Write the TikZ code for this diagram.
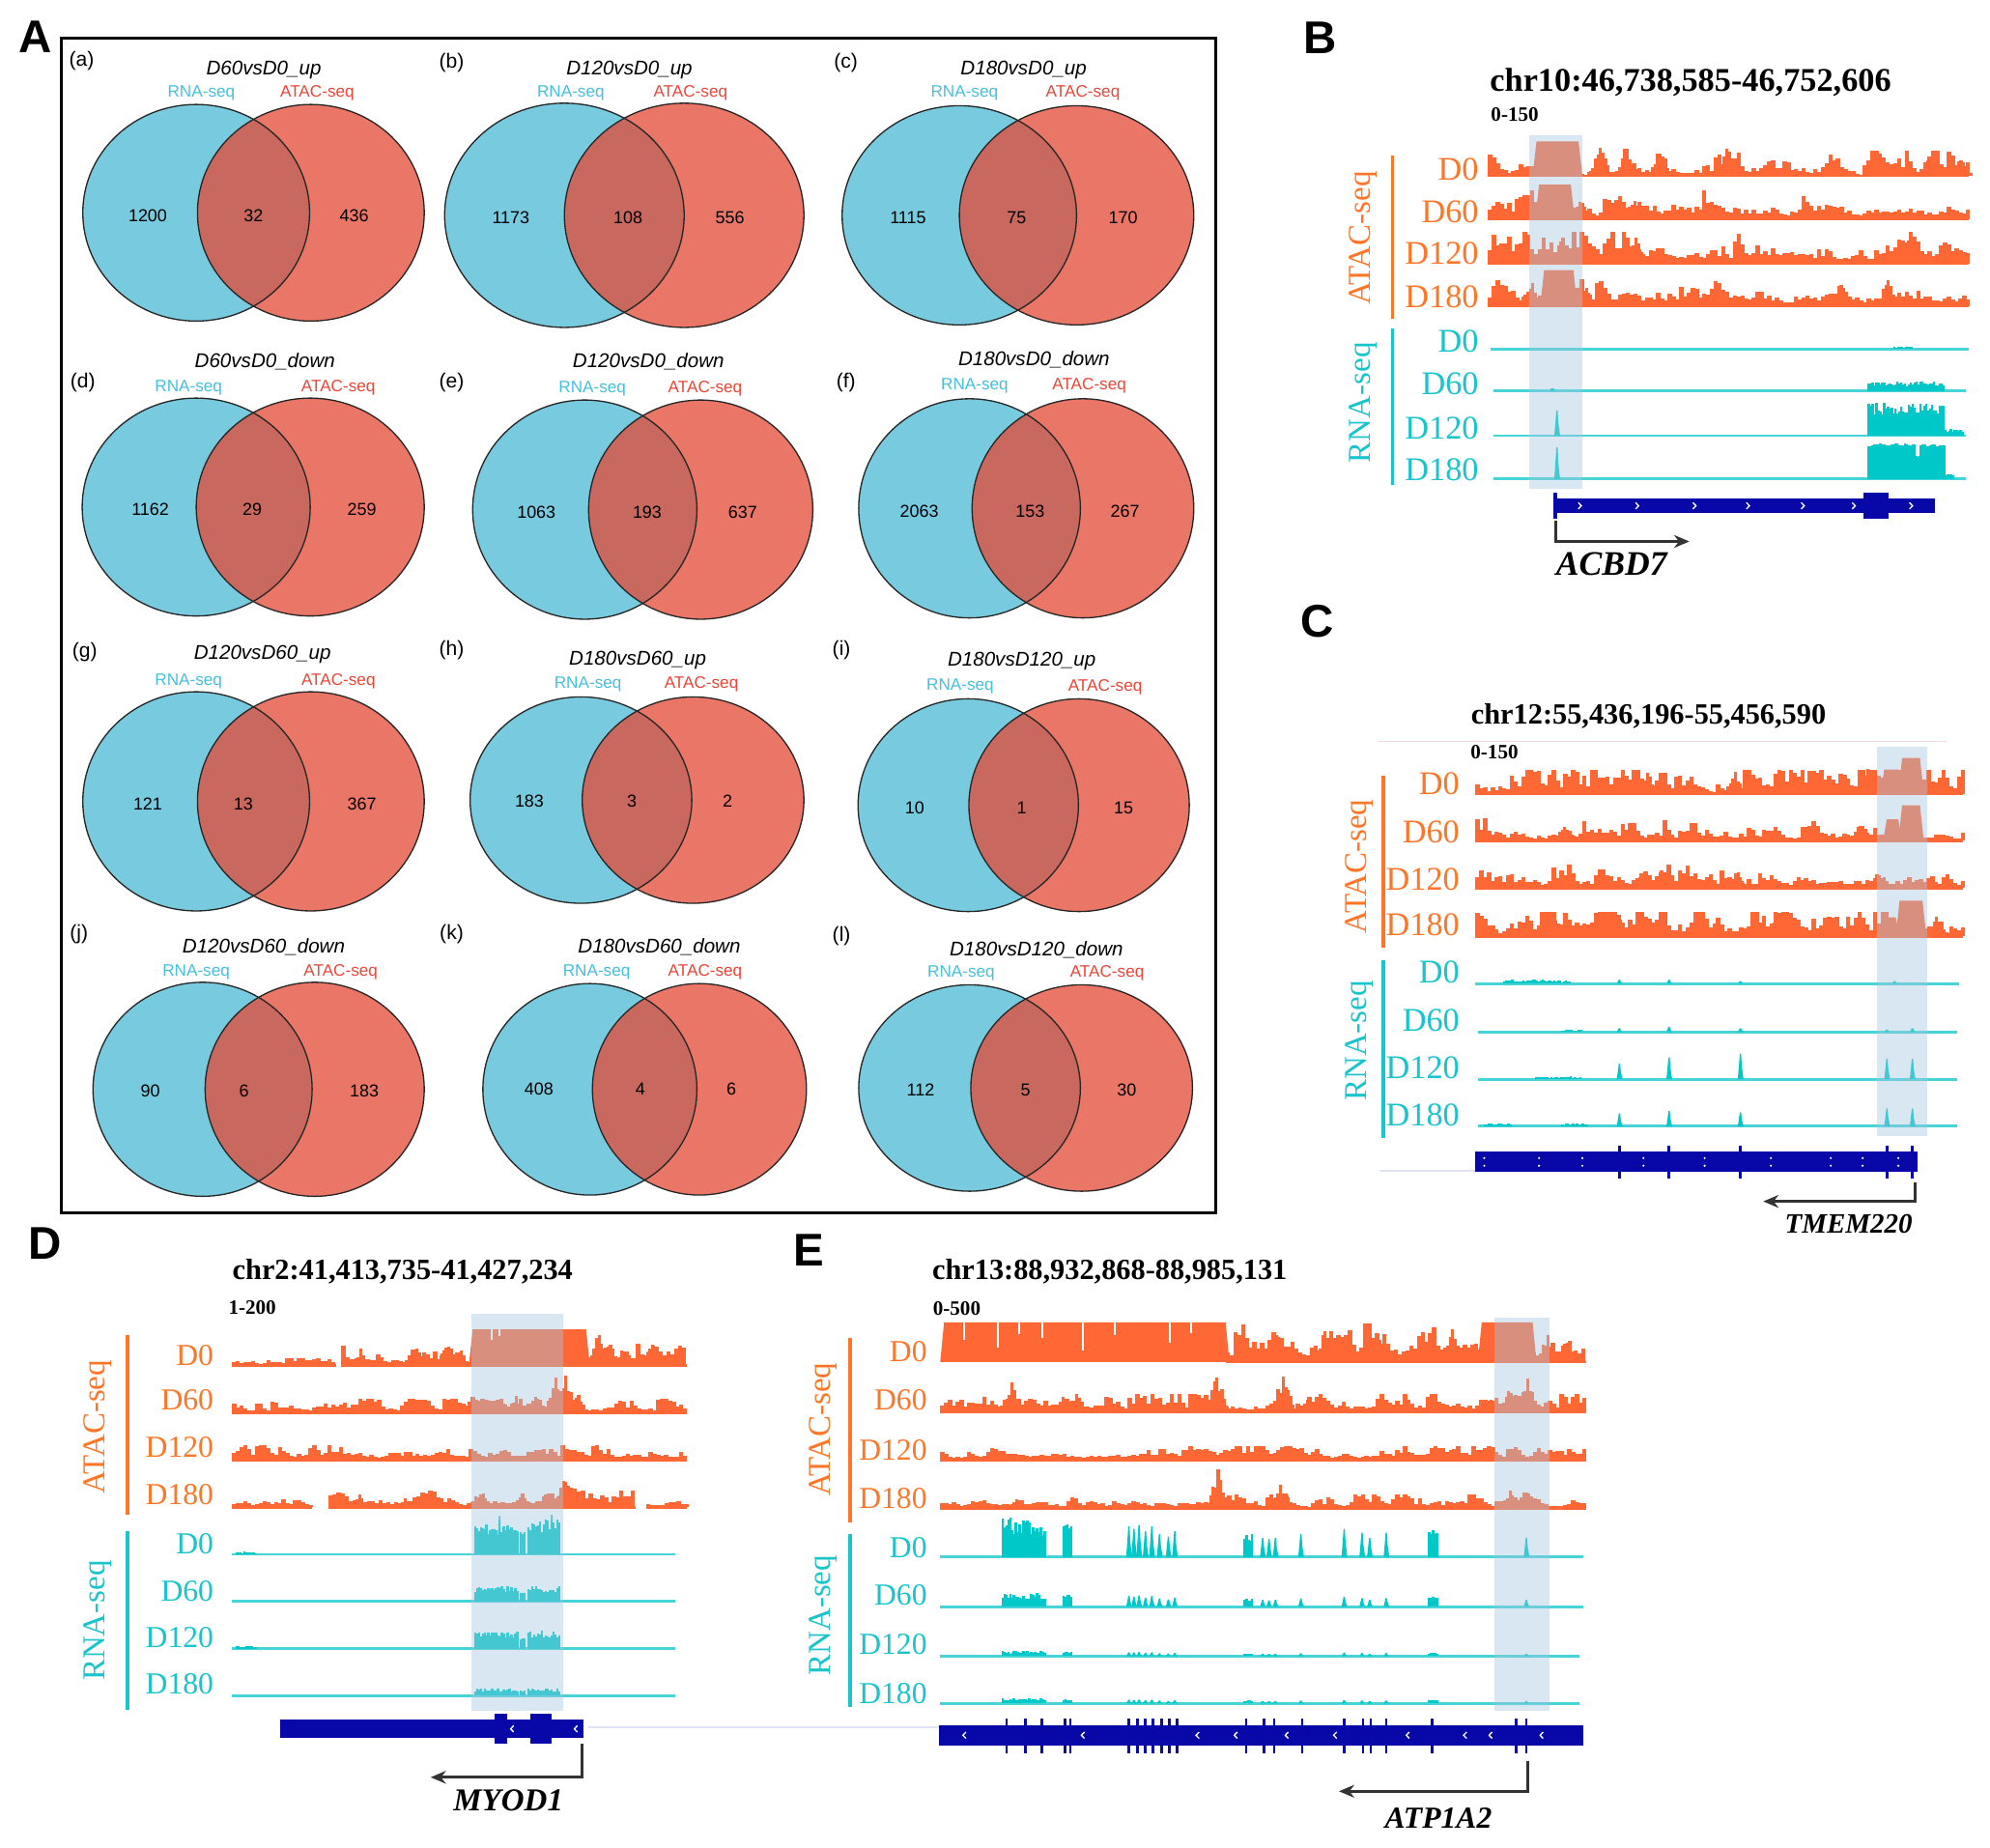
\documentclass[tikz,border=0pt]{standalone}
\usepackage{fontspec}
\setmainfont{Liberation Serif}
\setsansfont{Liberation Sans}
\usetikzlibrary{arrows.meta}
\definecolor{vblue}{RGB}{120,202,223}
\definecolor{vred}{RGB}{234,118,104}
\definecolor{vint}{RGB}{201,104,94}
\definecolor{rnatxt}{RGB}{70,192,222}
\definecolor{atactxt}{RGB}{235,70,55}
\definecolor{atacc}{RGB}{255,104,52}
\definecolor{ataclab}{RGB}{255,118,40}
\definecolor{rnac}{RGB}{0,200,200}
\definecolor{rnaline}{RGB}{70,212,214}
\definecolor{rnalab}{RGB}{25,196,205}
\definecolor{genec}{RGB}{8,8,168}
\definecolor{hil}{RGB}{165,198,226}
\definecolor{lav}{RGB}{226,226,245}
\definecolor{pinkl}{RGB}{250,215,215}
\tikzset{
 pletter/.style={font=\sffamily\bfseries\fontsize{18}{18}\selectfont, inner sep=0pt},
 vsub/.style={font=\sffamily\fontsize{8}{8}\selectfont, inner sep=0pt},
 vtitle/.style={font=\sffamily\itshape\fontsize{7.8}{8}\selectfont, inner sep=0pt},
 vrna/.style={font=\sffamily\fontsize{6.5}{7}\selectfont, text=rnatxt, inner sep=0pt},
 vatac/.style={font=\sffamily\fontsize{6.5}{7}\selectfont, text=atactxt, inner sep=0pt},
 vnum/.style={font=\sffamily\fontsize{6.8}{7}\selectfont, inner sep=0pt},
 btitle/.style={font=\bfseries\fontsize{13}{13}\selectfont, inner sep=0pt},
 ctitle/.style={font=\bfseries\fontsize{11.5}{12}\selectfont, inner sep=0pt},
 cscale/.style={font=\bfseries\fontsize{8}{8}\selectfont, inner sep=0pt},
 alab/.style={font=\fontsize{13}{13}\selectfont, text=ataclab, anchor=east, inner sep=0pt},
 rlab/.style={font=\fontsize{13}{13}\selectfont, text=rnalab, anchor=east, inner sep=0pt},
 alabs/.style={alab, font=\fontsize{12}{12}\selectfont},
 rlabs/.style={rlab, font=\fontsize{12}{12}\selectfont},
 aname/.style={font=\fontsize{12.5}{13}\selectfont, text=ataclab, rotate=90, inner sep=0pt},
 rname/.style={font=\fontsize{12.5}{13}\selectfont, text=rnalab, rotate=90, inner sep=0pt},
 abar/.style={draw=ataclab, line width=1.5pt},
 rbar/.style={draw=rnalab, line width=1.5pt},
 gname/.style={font=\bfseries\itshape\fontsize{12.5}{13}\selectfont, inner sep=0pt},
 garrow/.style={draw=black!80, line width=1.1pt, -{Stealth[length=6pt,width=5pt]}},
 hilite/.style={fill=hil, fill opacity=0.42},
 vline/.style={draw=black!85, line width=0.5pt},
}
\newcommand{\venn}[5]{%
  \fill[vblue] (#1,#3) ellipse [x radius=#4, y radius=#5];
  \fill[vred] (#2,#3) ellipse [x radius=#4, y radius=#5];
  \begin{scope}
    \clip (#1,#3) ellipse [x radius=#4, y radius=#5];
    \fill[vint] (#2,#3) ellipse [x radius=#4, y radius=#5];
  \end{scope}
  \draw[vline] (#1,#3) ellipse [x radius=#4, y radius=#5];
  \draw[vline] (#2,#3) ellipse [x radius=#4, y radius=#5];
}
% random ATAC-like signal: x0, x1, baseline, amplitude, seed, floor
\newcommand{\sig}[6]{%
  \pgfmathsetseed{#5}%
  \gdef\envv{0.55}\gdef\vprev{0.4}%
  \pgfmathtruncatemacro\nsteps{(#2-#1)/3}%
  \foreach \k in {0,...,\nsteps}{%
    \pgfmathsetmacro\ee{max(0.2,min(1,\envv+0.4*(rnd-0.5)))}%
    \global\let\envv\ee
    \pgfmathsetmacro\vv{0.4*\vprev+0.6*2.0*\ee*(rnd^1.5)}%
    \global\let\vprev\vv
    \pgfmathsetmacro\hh{#4*min(1,#6+(1-#6)*\vv)}%
    \fill[atacc] ({#1+3*\k},#3) rectangle ++(3.4,-\hh);
  }%
  \draw[atacc,line width=1pt] (#1,#3) -- (#2+2,#3);%
}
\newcommand{\blk}[4]{\fill[atacc] (#1,#4) -- (#1+3,#4-#3) -- (#2-3,#4-#3) -- (#2,#4) -- cycle;}
% jagged peak: centre, height, baseline
\newcommand{\pk}[3]{%
  \foreach \j in {-4,...,4}{%
    \pgfmathsetmacro\hh{#2*max(0,1-abs(\j)/5)*(0.6+0.4*rnd)}%
    \fill[atacc] ({#1+2*\j-1},#3) rectangle ++(2.4,-\hh);
  }}
\newcommand{\rbase}[3]{\draw[rnaline,line width=1.1pt] (#1,#3) -- (#2,#3);}
\newcommand{\rblk}[5]{%
  \pgfmathtruncatemacro\nst{max(0,(#2-#1)/1.5)}%
  \foreach \k in {0,...,\nst}{%
    \pgfmathsetmacro\hh{#4*(1-#5*rnd)}%
    \fill[rnac] ({#1+1.5*\k},#3) rectangle ++(1.8,-\hh);
  }}
\newcommand{\rsp}[3]{\fill[rnac] (#1-2,#3) -- (#1-1,#3-#2*0.6) -- (#1-0.4,#3-#2) -- (#1+0.6,#3-#2) -- (#1+1.2,#3-#2*0.5) -- (#1+2.5,#3) -- cycle;}
\newcommand{\chevr}[2]{\draw[white,line width=0.5pt] (#1-1.2,#2-2.5) -- (#1+1.2,#2) -- (#1-1.2,#2+2.5);}
\newcommand{\chevl}[2]{\draw[white,line width=0.5pt] (#1+1.2,#2-2.5) -- (#1-1.2,#2) -- (#1+1.2,#2+2.5);}
\newcommand{\exon}[3]{\fill[genec] (#1-1,#2) rectangle (#1+1,#3);}
\newcommand{\epeaks}[2]{%
  \rblk{786}{819}{#1}{31*#2}{0.45}
  \rblk{834}{841}{#1}{26*#2}{0.2}
  \rsp{886}{24*#2}{#1}\rsp{890}{22*#2}{#1}\rsp{894}{25*#2}{#1}\rsp{899}{20*#2}{#1}
  \rsp{904}{24*#2}{#1}\rsp{910}{18*#2}{#1}\rsp{917}{16*#2}{#1}\rsp{922}{20*#2}{#1}
  \rblk{976}{982}{#1}{18*#2}{0.3}
  \rsp{991}{15*#2}{#1}\rsp{996}{14*#2}{#1}\rsp{1001}{15*#2}{#1}
  \rsp{1021}{18*#2}{#1}\rsp{1055}{22*#2}{#1}
  \rsp{1069}{19*#2}{#1}\rsp{1075}{15*#2}{#1}\rsp{1088}{19*#2}{#1}
  \rblk{1121}{1128}{#1}{23*#2}{0.3}
  \rsp{1198}{15*#2}{#1}
}
\begin{document}
\begin{tikzpicture}[x=0.5pt,y=-0.5pt]
\useasboundingbox (0,0) rectangle (1562,1450);
\fill[white] (0,0) rectangle (1562,1450);

% ================= Panel A =================
\node[pletter] (LA) at (28,29) {A};
\draw[line width=1.1pt] (48,30) rectangle (954,952);

\venn{154}{244}{167}{89}{85}
\venn{443}{537}{169}{94}{88}
\venn{753}{845}{169}{92}{86}
\venn{154}{243.5}{398}{89.5}{85.5}
\venn{459}{550}{400}{88}{86}
\venn{761}{850}{399}{87}{86}
\venn{154}{244}{629}{89}{86}
\venn{456}{544}{628}{87}{81}
\venn{760}{847}{632}{86.5}{83.5}
\venn{159}{247}{855}{86}{84}
\venn{463}{549}{855}{84}{83}
\venn{761}{849}{854}{87}{81}

\node[vsub] (sa) at (64,48) {(a)};
\node[vtitle] (ta) at (207,55) {D60vsD0\_up};
\node[vrna] (ra) at (158,73) {RNA-seq};
\node[vatac] (aa) at (249,73) {ATAC-seq};
\node[vnum] (na1) at (116,169) {1200};
\node[vnum] (na2) at (199,169) {32};
\node[vnum] (na3) at (278,169) {436};

\node[vsub] (sb) at (354.5,49.5) {(b)};
\node[vtitle] (tb) at (494,55) {D120vsD0\_up};
\node[vrna] (rb) at (448,73) {RNA-seq};
\node[vatac] (ab) at (542,73) {ATAC-seq};
\node[vnum] (nb1) at (401,171) {1173};
\node[vnum] (nb2) at (493,171) {108};
\node[vnum] (nb3) at (573,171) {556};

\node[vsub] (sc) at (664,49.5) {(c)};
\node[vtitle] (tc) at (803.5,55) {D180vsD0\_up};
\node[vrna] (rc) at (757,73) {RNA-seq};
\node[vatac] (ac) at (850,73) {ATAC-seq};
\node[vnum] (nc1) at (712.7,171) {1115};
\node[vnum] (nc2) at (798,171) {75};
\node[vnum] (nc3) at (881.5,171) {170};

\node[vsub] (sd) at (65,300) {(d)};
\node[vtitle] (td) at (208,283.5) {D60vsD0\_down};
\node[vrna] (rd) at (148,304) {RNA-seq};
\node[vatac] (ad) at (265.5,304) {ATAC-seq};
\node[vnum] (nd1) at (118,400) {1162};
\node[vnum] (nd2) at (198,400) {29};
\node[vnum] (nd3) at (284,400) {259};

\node[vsub] (se) at (354.5,300) {(e)};
\node[vtitle] (te) at (509,284) {D120vsD0\_down};
\node[vrna] (re) at (465,305) {RNA-seq};
\node[vatac] (ae) at (553.5,305) {ATAC-seq};
\node[vnum] (ne1) at (421,402) {1063};
\node[vnum] (ne2) at (508,402) {193};
\node[vnum] (ne3) at (583,402) {637};

\node[vsub] (sf) at (664,300) {(f)};
\node[vtitle] (tf) at (811.6,282.4) {D180vsD0\_down};
\node[vrna] (rf) at (765,303) {RNA-seq};
\node[vatac] (af) at (855,303) {ATAC-seq};
\node[vnum] (nf1) at (721.5,401) {2063};
\node[vnum] (nf2) at (808.5,401) {153};
\node[vnum] (nf3) at (883,401) {267};

\node[vsub] (sg) at (66.5,511.5) {(g)};
\node[vtitle] (tg) at (206,514) {D120vsD60\_up};
\node[vrna] (rg) at (148,534.5) {RNA-seq};
\node[vatac] (ag) at (265.6,534.5) {ATAC-seq};
\node[vnum] (ng1) at (116,631) {121};
\node[vnum] (ng2) at (191,631) {13};
\node[vnum] (ng3) at (284,631) {367};

\node[vsub] (sh) at (354.5,510) {(h)};
\node[vtitle] (th) at (500.5,518.6) {D180vsD60\_up};
\node[vrna] (rh) at (461.5,537) {RNA-seq};
\node[vatac] (ah) at (550.5,537) {ATAC-seq};
\node[vnum] (nh1) at (415.5,629) {183};
\node[vnum] (nh2) at (496,629) {3};
\node[vnum] (nh3) at (571,629) {2};

\node[vsub] (si) at (660.5,510.6) {(i)};
\node[vtitle] (ti) at (802,519) {D180vsD120\_up};
\node[vrna] (ri) at (753.7,539) {RNA-seq};
\node[vatac] (ai) at (867.5,539) {ATAC-seq};
\node[vnum] (ni1) at (718,634) {10};
\node[vnum] (ni2) at (802,634) {1};
\node[vnum] (ni3) at (882,634) {15};

\node[vsub] (sj) at (62,733) {(j)};
\node[vtitle] (tj) at (207,743.6) {D120vsD60\_down};
\node[vrna] (rj) at (154,763) {RNA-seq};
\node[vatac] (aj) at (267.4,763) {ATAC-seq};
\node[vnum] (nj1) at (118,856.6) {90};
\node[vnum] (nj2) at (191.6,856.6) {6};
\node[vnum] (nj3) at (286,856.6) {183};

\node[vsub] (sk) at (354.5,733) {(k)};
\node[vtitle] (tk) at (517.5,743.6) {D180vsD60\_down};
\node[vrna] (rk) at (468.3,763) {RNA-seq};
\node[vatac] (ak) at (553.5,763) {ATAC-seq};
\node[vnum] (nk1) at (423,855) {408};
\node[vnum] (nk2) at (502.6,855) {4};
\node[vnum] (nk3) at (574,855) {6};

\node[vsub] (sl) at (660.5,735) {(l)};
\node[vtitle] (tl) at (813.5,745.3) {D180vsD120\_down};
\node[vrna] (rl) at (754.4,763.5) {RNA-seq};
\node[vatac] (al) at (869,763.5) {ATAC-seq};
\node[vnum] (nl1) at (722.6,855.7) {112};
\node[vnum] (nl2) at (805,855.7) {5};
\node[vnum] (nl3) at (884.4,855.7) {30};

% ================= Panel B =================
\node[pletter] (LB) at (1036,30) {B};
\node[btitle] (TB) at (1327,65) {chr10:46,738,585-46,752,606};
\node[cscale] (SB) at (1189,90) {0-150};
\sig{1168}{1543}{138}{20}{11}{0.02}
\blk{1203}{1242}{27}{138}
\pk{1256}{24}{138}\pk{1277}{27}{138}\pk{1303}{23}{138}\pk{1355}{25}{138}\pk{1515}{17}{138}\pk{1539}{17}{138}
\sig{1168}{1543}{172}{23}{23}{0.08}
\blk{1205}{1236}{27}{172}\pk{1240}{18}{172}\pk{1283}{20}{172}
\sig{1168}{1543}{207}{25}{37}{0.1}
\pk{1212}{15}{207}\pk{1225}{22}{207}\pk{1284}{22}{207}\pk{1500}{24}{207}
\sig{1168}{1543}{240}{23}{41}{0.08}
\blk{1209}{1238}{28}{240}\pk{1201}{22}{240}\pk{1243}{18}{240}\pk{1482}{24}{240}\pk{1445}{22}{240}
\pgfmathsetseed{5}
\rbase{1170}{1545}{274}\rblk{1486}{1500}{274}{2}{0.5}
\rbase{1172}{1543}{307}\rblk{1217}{1219}{307}{3}{0.3}\rblk{1466}{1525}{307}{8}{0.5}
\rbase{1172}{1543}{342}\rsp{1222}{20}{342}\rblk{1466}{1525}{342}{26}{0.35}\rblk{1526}{1540}{342}{5}{0.5}
\rbase{1172}{1543}{376}\rsp{1222}{25}{376}\rblk{1466}{1502}{376}{28}{0.08}\rblk{1503}{1506}{376}{19}{0.1}\rblk{1507}{1525}{376}{28}{0.08}\rblk{1526}{1532}{376}{4}{0.3}
\node[alab] (B1) at (1161,133) {D0};
\node[alab] (B2) at (1161,166) {D60};
\node[alab] (B3) at (1161,199) {D120};
\node[alab] (B4) at (1161,233) {D180};
\node[rlab] (B5) at (1161,268) {D0};
\node[rlab] (B6) at (1161,301) {D60};
\node[rlab] (B7) at (1161,336) {D120};
\node[rlab] (B8) at (1161,369) {D180};
\draw[abar] (1093,122) -- (1093,250);
\draw[rbar] (1093,258) -- (1093,381);
\node[aname] (BA) at (1070,187) {ATAC-seq};
\node[rname] (BR) at (1070,316) {RNA-seq};
\fill[hilite] (1200,106) rectangle (1242,384);
\fill[genec] (1219,391) rectangle (1519,403);
\fill[genec] (1463,387) rectangle (1482,407);
\fill[genec] (1219,387) rectangle (1222,407);
\foreach \cx in {1240,1285,1330,1372,1415,1455,1500}{\chevr{\cx}{397}}
\coordinate (Bs) at (1221,409);
\coordinate (Be) at (1326,425);
\draw[garrow] (Bs) |- (Be);
\node[gname, font=\bfseries\itshape\fontsize{13.5}{14}\selectfont] (GB) at (1265,443) {ACBD7};

% ================= Panel C =================
\node[pletter] (LC) at (1034,488) {C};
\node[ctitle] (TC) at (1294,562) {chr12:55,436,196-55,456,590};
\draw[pinkl,line width=0.5pt] (1082,582) -- (1528,582);
\node[cscale] (SC) at (1173,590) {0-150};
\sig{1158}{1539}{623}{19}{51}{0.03}
\blk{1476}{1493}{19}{623}\blk{1490}{1510}{28}{623}\pk{1466}{22}{623}\pk{1293}{18}{623}\pk{1362}{17}{623}\pk{1235}{12}{623}
\sig{1158}{1539}{660}{20}{63}{0.06}
\blk{1478}{1493}{17}{660}\blk{1490}{1510}{28}{660}\pk{1460}{17}{660}\pk{1228}{14}{660}
\sig{1158}{1539}{697}{18}{77}{0.06}
\pk{1289}{16}{697}\pk{1304}{15}{697}\pk{1362}{15}{697}\pk{1475}{15}{697}
\sig{1158}{1539}{735}{19}{89}{0.04}
\blk{1478}{1491}{15}{735}\blk{1488}{1512}{28}{735}\pk{1396}{21}{735}\pk{1520}{20}{735}\pk{1221}{14}{735}\pk{1272}{13}{735}
\pgfmathsetseed{7}
\rbase{1158}{1538}{772}\rblk{1180}{1232}{772}{3}{0.6}\rsp{1271}{3}{772}\rsp{1310}{3}{772}\rsp{1366}{2}{772}\rsp{1487}{2}{772}
\rbase{1160}{1536}{810}\rblk{1225}{1240}{810}{2}{0.4}\rsp{1271}{3}{810}\rsp{1310}{4}{810}\rsp{1366}{3}{810}\rsp{1481}{2}{810}\rsp{1501}{3}{810}
\rbase{1160}{1536}{847}\rblk{1205}{1240}{847}{2}{0.5}\rsp{1271}{12}{847}\rsp{1310}{17}{847}\rsp{1366}{20}{847}\rsp{1481}{16}{847}\rsp{1501}{16}{847}
\rbase{1160}{1536}{884}\rblk{1165}{1185}{884}{2}{0.5}\rblk{1225}{1245}{884}{2}{0.5}\rsp{1271}{10}{884}\rsp{1310}{12}{884}\rsp{1366}{11}{884}\rsp{1481}{14}{884}\rsp{1501}{14}{884}
\node[alab] (C1) at (1146,615) {D0};
\node[alab] (C2) at (1146,653) {D60};
\node[alab] (C3) at (1146,690) {D120};
\node[alab] (C4) at (1146,726) {D180};
\node[rlab] (C5) at (1146,763) {D0};
\node[rlab] (C6) at (1146,801) {D60};
\node[rlab] (C7) at (1146,838) {D120};
\node[rlab] (C8) at (1146,875) {D180};
\draw[abar] (1086,609) -- (1086,744);
\draw[rbar] (1086,754) -- (1086,893);
\node[aname] (CA) at (1067,680) {ATAC-seq};
\node[rname] (CR) at (1067,817) {RNA-seq};
\fill[hilite] (1473,586) rectangle (1513,892);
\draw[lav,line width=0.8pt] (1083,919) -- (1158,919);
\fill[genec] (1158,904) rectangle (1505,920);
\foreach \ex in {1271,1310,1366,1481,1501}{\exon{\ex}{899}{925}}
\foreach \cx in {1165,1208,1242,1290,1338,1390,1437,1462,1490}{\fill[white] (\cx,909) circle (0.9); \fill[white] (\cx,915) circle (0.9);}
\coordinate (Cs) at (1503,928);
\coordinate (Ce) at (1384,943);
\draw[garrow] (Cs) |- (Ce);
\node[gname, font=\itshape\bfseries\fontsize{11}{11}\selectfont] (GC) at (1451,961) {TMEM220};

% ================= Panel D =================
\node[pletter] (LD) at (35,976) {D};
\node[ctitle] (TD) at (316,998) {chr2:41,413,735-41,427,234};
\node[cscale] (SD) at (198,1026) {1-200};
\sig{182}{262}{1072}{6}{101}{0.2}
\sig{268}{537}{1072}{17}{103}{0.06}
\blk{368}{463}{28.6}{1072}
\pk{283}{14}{1072}\pk{325}{18}{1072}\pk{352}{21}{1072}\pk{360}{16}{1072}\pk{470}{28}{1072}\pk{477}{24}{1072}\pk{490}{18}{1072}\pk{512}{20}{1072}\pk{520}{14}{1072}
\draw[white,line width=0.7pt] (386,1043.4) -- (386,1052);
\draw[white,line width=0.7pt] (392,1043.4) -- (392,1049);
\sig{182}{537}{1109}{11}{107}{0.1}
\pk{285}{10}{1109}\pk{372}{16}{1109}\pk{380}{12}{1109}\pk{395}{10}{1109}\pk{405}{14}{1109}\pk{420}{18}{1109}\pk{436}{28}{1109}\pk{444}{30}{1109}\pk{452}{18}{1109}
\sig{182}{537}{1146}{12}{109}{0.12}
\sig{182}{243}{1183}{6}{113}{0.2}
\sig{258}{497}{1183}{13}{127}{0.1}
\sig{507}{537}{1183}{5}{131}{0.2}
\pk{444}{29}{1183}\pk{451}{22}{1183}\pk{377}{15}{1183}\pk{282}{10}{1183}\pk{318}{8}{1183}\pk{430}{14}{1183}\pk{410}{12}{1183}
\pgfmathsetseed{9}
\rbase{182}{530}{1220}\rblk{185}{200}{1220}{2}{0.5}\rblk{372}{405}{1220}{24}{0.4}\rsp{392}{30}{1220}\rblk{408}{411}{1220}{18}{0.1}\rblk{414}{438}{1220}{28}{0.4}\rsp{433}{31}{1220}
\rbase{182}{530}{1257}\rblk{372}{405}{1257}{12}{0.4}\rblk{408}{411}{1257}{7}{0.1}\rblk{414}{438}{1257}{12}{0.4}
\rbase{182}{530}{1294}\rblk{185}{200}{1294}{2}{0.4}\rblk{372}{405}{1294}{14}{0.4}\rblk{408}{411}{1294}{8}{0.1}\rblk{414}{438}{1294}{14}{0.4}
\rbase{182}{530}{1331}\rblk{372}{405}{1331}{6}{0.5}\rblk{408}{411}{1331}{4}{0.1}\rblk{414}{438}{1331}{6}{0.5}
\node[alabs] (D1) at (168,1064) {D0};
\node[alabs] (D2) at (168,1099) {D60};
\node[alabs] (D3) at (168,1136) {D120};
\node[alabs] (D4) at (168,1173) {D180};
\node[rlabs] (D5) at (168,1212) {D0};
\node[rlabs] (D6) at (168,1249) {D60};
\node[rlabs] (D7) at (168,1285) {D120};
\node[rlabs] (D8) at (168,1322) {D180};
\draw[abar] (100,1048) -- (100,1189);
\draw[rbar] (100,1202) -- (100,1342);
\node[aname] (DA) at (77,1120) {ATAC-seq};
\node[rname] (DR) at (77,1272) {RNA-seq};
\fill[hilite] (370,1031) rectangle (442,1343);
\draw[lav,line width=0.8pt] (462,1356) -- (737,1356);
\fill[genec] (220,1350) rectangle (458,1364);
\fill[genec] (388,1345) rectangle (398,1369);
\fill[genec] (416,1345) rectangle (433,1369);
\chevl{402}{1357}\chevl{452}{1357}
\coordinate (Ds) at (457,1369);
\coordinate (De) at (338,1395);
\draw[garrow] (Ds) |- (De);
\node[gname] (GD) at (399,1413) {MYOD1};

% ================= Panel E =================
\node[pletter] (LE) at (635,981) {E};
\node[ctitle] (TE) at (871,998) {chr13:88,932,868-88,985,131};
\node[cscale] (SE) at (751,1027) {0-500};
\blk{738}{965}{31}{1069}
\foreach \nx/\nd in {757/14,783/20,800/9,818/12,850/22,875/10,918/16,935/8}{\draw[white,line width=0.7pt] (\nx,1038) -- (\nx,1038+\nd);}
\sig{962}{1243}{1069}{30}{201}{0.1}
\blk{1160}{1206}{31}{1069}
\pk{1000}{27}{1069}\pk{1040}{25}{1069}\pk{1083}{22}{1069}\pk{1122}{24}{1069}\pk{1140}{26}{1069}\pk{1215}{25}{1069}\pk{1230}{22}{1069}
\sig{738}{1243}{1108}{14}{211}{0.08}
\pk{794}{27}{1108}\pk{836}{15}{1108}\pk{845}{14}{1108}\pk{955}{30}{1108}\pk{1007}{30}{1108}\pk{1028}{12}{1108}\pk{1170}{14}{1108}\pk{1186}{21}{1108}\pk{1199}{26}{1108}
\sig{738}{1243}{1146}{11}{223}{0.15}
\sig{738}{1243}{1184}{11}{227}{0.1}
\pk{956}{31}{1184}\pk{1005}{22}{1184}\pk{1185}{15}{1184}\pk{1198}{16}{1184}\pk{800}{10}{1184}
\pgfmathsetseed{13}
\rbase{738}{1243}{1222}\epeaks{1222}{1}
\rbase{738}{1243}{1261}\epeaks{1261}{0.35}
\rbase{738}{1240}{1300}\epeaks{1300}{0.13}
\rbase{738}{1240}{1337}\epeaks{1337}{0.12}
\node[alabs] (E1) at (728,1061) {D0};
\node[alabs] (E2) at (728,1099) {D60};
\node[alabs] (E3) at (728,1138) {D120};
\node[alabs] (E4) at (728,1176) {D180};
\node[rlabs] (E5) at (728,1215) {D0};
\node[rlabs] (E6) at (728,1252) {D60};
\node[rlabs] (E7) at (728,1291) {D120};
\node[rlabs] (E8) at (728,1329) {D180};
\draw[abar] (667,1050) -- (667,1195);
\draw[rbar] (667,1204) -- (667,1340);
\node[aname] (EA) at (646,1122) {ATAC-seq};
\node[rname] (ER) at (646,1268) {RNA-seq};
\fill[hilite] (1173,1034) rectangle (1216,1343);
\fill[genec] (737,1354) rectangle (1243,1370);
\foreach \ex in {790,805,818,836,840,886,893,899,905,912,918,924,978,992,1000,1022,1055,1070,1076,1088,1124,1190,1198}{\exon{\ex}{1349}{1376}}
\foreach \cx in {757,850,940,970,1010,1048,1105,1150,1170,1210}{\chevl{\cx}{1362}}
\coordinate (Es) at (1199,1382);
\coordinate (Ee) at (1051,1406);
\draw[garrow] (Es) |- (Ee);
\node[gname, font=\bfseries\itshape\fontsize{12}{12}\selectfont] (GE) at (1129,1427) {ATP1A2};
\end{tikzpicture}
\end{document}
